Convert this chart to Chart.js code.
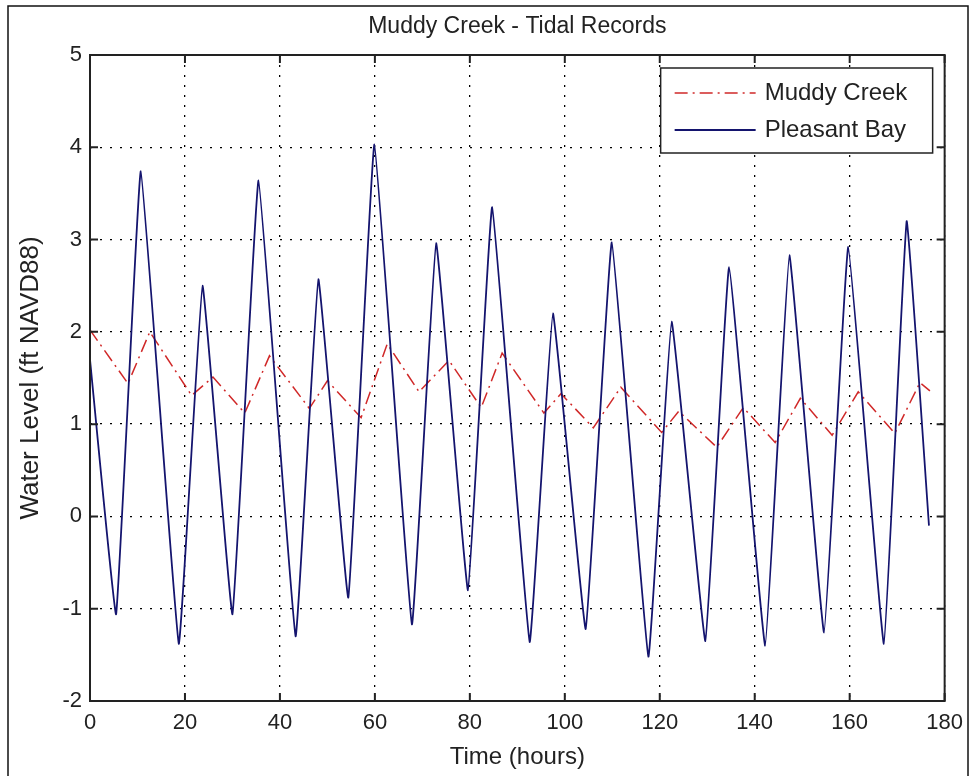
<!DOCTYPE html>
<html>
<head>
<meta charset="utf-8">
<title>Muddy Creek - Tidal Records</title>
<script src="https://cdn.jsdelivr.net/npm/chart.js@4.4.1/dist/chart.umd.min.js"></script>
<style>
  html, body { margin: 0; padding: 0; background: #fff; }
</style>
</head>
<body>
<canvas id="tideChart" width="972" height="776"></canvas>
<script>
// Pleasant Bay - highs and lows (hours, ft NAVD88)
const pbTime  = [0, 5.5, 10.7, 18.7, 23.7, 30.0, 35.5, 43.3, 48.1, 54.4, 59.9, 67.8, 72.9, 79.6, 84.7,
                 92.6, 97.5, 104.4, 109.9, 117.6, 122.5, 129.6, 134.6, 142.2, 147.3, 154.6, 159.7, 167.2, 172.0, 176.7];
const pbLevel = [1.7, -1.06, 3.74, -1.38, 2.5, -1.06, 3.64, -1.3, 2.57, -0.88, 4.03, -1.17, 2.96, -0.8, 3.35,
                 -1.36, 2.2, -1.22, 2.97, -1.52, 2.11, -1.35, 2.7, -1.4, 2.83, -1.26, 2.92, -1.38, 3.2, -0.1];

// Muddy Creek - damped, lagged signal
const mcTime  = [0, 8.0, 12.6, 21.4, 25.9, 32.6, 37.8, 46.2, 50.0, 57.1, 62.6, 69.3, 75.6, 82.4, 86.8,
                 95.6, 99.2, 106.0, 111.8, 120.4, 124.0, 132.0, 137.6, 144.3, 149.6, 156.3, 161.8, 169.5, 174.8, 176.9];
const mcLevel = [2.02, 1.44, 2.0, 1.31, 1.51, 1.12, 1.74, 1.17, 1.47, 1.07, 1.87, 1.35, 1.69, 1.18, 1.77,
                 1.12, 1.33, 0.96, 1.4, 0.91, 1.14, 0.75, 1.18, 0.8, 1.28, 0.88, 1.35, 0.9, 1.45, 1.36];

const xTicks = [0, 20, 40, 60, 80, 100, 120, 140, 160, 180];
const yTicks = [-2, -1, 0, 1, 2, 3, 4, 5];

const chartTitle = 'Muddy Creek - Tidal Records';
const FONT = 'Liberation Sans, Arial, Helvetica, sans-serif';

function toPoints(xs, ys) {
  return xs.map((x, i) => ({ x: x, y: ys[i] }));
}

// frame, inward ticks, outer border, title and the in-plot legend (matlab style)
const matlabFrame = {
  id: 'matlabFrame',
  beforeDraw(chart) {
    const ctx = chart.ctx;
    ctx.save();
    ctx.fillStyle = '#fff';
    ctx.fillRect(0, 0, chart.width, chart.height);
    ctx.strokeStyle = '#111';
    ctx.lineWidth = 1.5;
    ctx.strokeRect(8, 6, 960, 800);
    ctx.restore();
  },
  afterDraw(chart) {
    const ctx = chart.ctx;
    const a = chart.chartArea;
    const xs = chart.scales.x;
    const ys = chart.scales.y;
    ctx.save();

    // title centred over the axes
    ctx.fillStyle = '#222';
    ctx.font = '23px ' + FONT;
    ctx.textAlign = 'center';
    ctx.textBaseline = 'middle';
    ctx.fillText(chartTitle, (a.left + a.right) / 2, 27);

    ctx.strokeStyle = '#222';
    ctx.lineWidth = 2;
    ctx.setLineDash([]);
    ctx.beginPath();
    xTicks.forEach(v => {
      const px = xs.getPixelForValue(v);
      ctx.moveTo(px, a.bottom); ctx.lineTo(px, a.bottom - 8);
      ctx.moveTo(px, a.top); ctx.lineTo(px, a.top + 8);
    });
    yTicks.forEach(v => {
      const py = ys.getPixelForValue(v);
      ctx.moveTo(a.left, py); ctx.lineTo(a.left + 8, py);
      ctx.moveTo(a.right, py); ctx.lineTo(a.right - 8, py);
    });
    ctx.stroke();
    ctx.strokeRect(a.left, a.top, a.right - a.left, a.bottom - a.top);

    // legend box
    const bx = a.right - 284, by = a.top + 13, bw = 272, bh = 85;
    ctx.fillStyle = '#fff';
    ctx.fillRect(bx, by, bw, bh);
    ctx.lineWidth = 1.5;
    ctx.strokeRect(bx, by, bw, bh);
    ctx.font = '24px ' + FONT;
    ctx.textAlign = 'left';
    ctx.textBaseline = 'middle';
    chart.data.datasets.forEach((ds, i) => {
      const ly = by + 25 + i * 37;
      ctx.strokeStyle = ds.borderColor;
      ctx.lineWidth = ds.borderWidth;
      ctx.setLineDash(ds.borderDash || []);
      ctx.beginPath();
      ctx.moveTo(bx + 14, ly);
      ctx.lineTo(bx + 95, ly);
      ctx.stroke();
      ctx.fillStyle = '#222';
      ctx.fillText(ds.label, bx + 104, ly);
    });
    ctx.restore();
  }
};

new Chart(document.getElementById('tideChart'), {
  type: 'line',
  data: {
    datasets: [{
      label: 'Muddy Creek',
      data: toPoints(mcTime, mcLevel),
      borderColor: '#d02828',
      borderWidth: 1.5,
      borderDash: [13, 5, 2, 5],
      pointRadius: 0,
      tension: 0,
      order: 1
    }, {
      label: 'Pleasant Bay',
      data: toPoints(pbTime, pbLevel),
      borderColor: '#14146e',
      borderWidth: 1.8,
      pointRadius: 0,
      tension: 0.08,
      order: 0
    }]
  },
  options: {
    responsive: false,
    animation: false,
    layout: { padding: { left: 0, right: 25, top: 55, bottom: 0 } },
    plugins: {
      legend: { display: false },
      tooltip: { enabled: false },
      title: { display: false }
    },
    scales: {
      x: {
        type: 'linear',
        min: 0,
        max: 180,
        afterFit: s => { s.height = 75; },
        afterBuildTicks: s => { s.ticks = xTicks.map(v => ({ value: v })); },
        ticks: { color: '#222', padding: 9, font: { family: FONT, size: 22 } },
        grid: { color: '#000', lineWidth: 1.3, drawTicks: false },
        border: { display: false, dash: [2, 8] },
        title: {
          display: true,
          text: 'Time (hours)',
          color: '#222',
          font: { family: FONT, size: 24 },
          padding: { top: 0, bottom: 4 }
        }
      },
      y: {
        type: 'linear',
        min: -2,
        max: 5,
        afterFit: s => { s.width = 90; },
        afterBuildTicks: s => { s.ticks = yTicks.map(v => ({ value: v })); },
        ticks: { color: '#222', padding: 8, font: { family: FONT, size: 22 } },
        grid: { color: '#000', lineWidth: 1.3, drawTicks: false },
        border: { display: false, dash: [2, 8] },
        title: {
          display: true,
          text: 'Water Level (ft NAVD88)',
          color: '#222',
          font: { family: FONT, size: 26 },
          padding: { top: 15, bottom: 0 }
        }
      }
    }
  },
  plugins: [matlabFrame]
});
</script>
</body>
</html>
